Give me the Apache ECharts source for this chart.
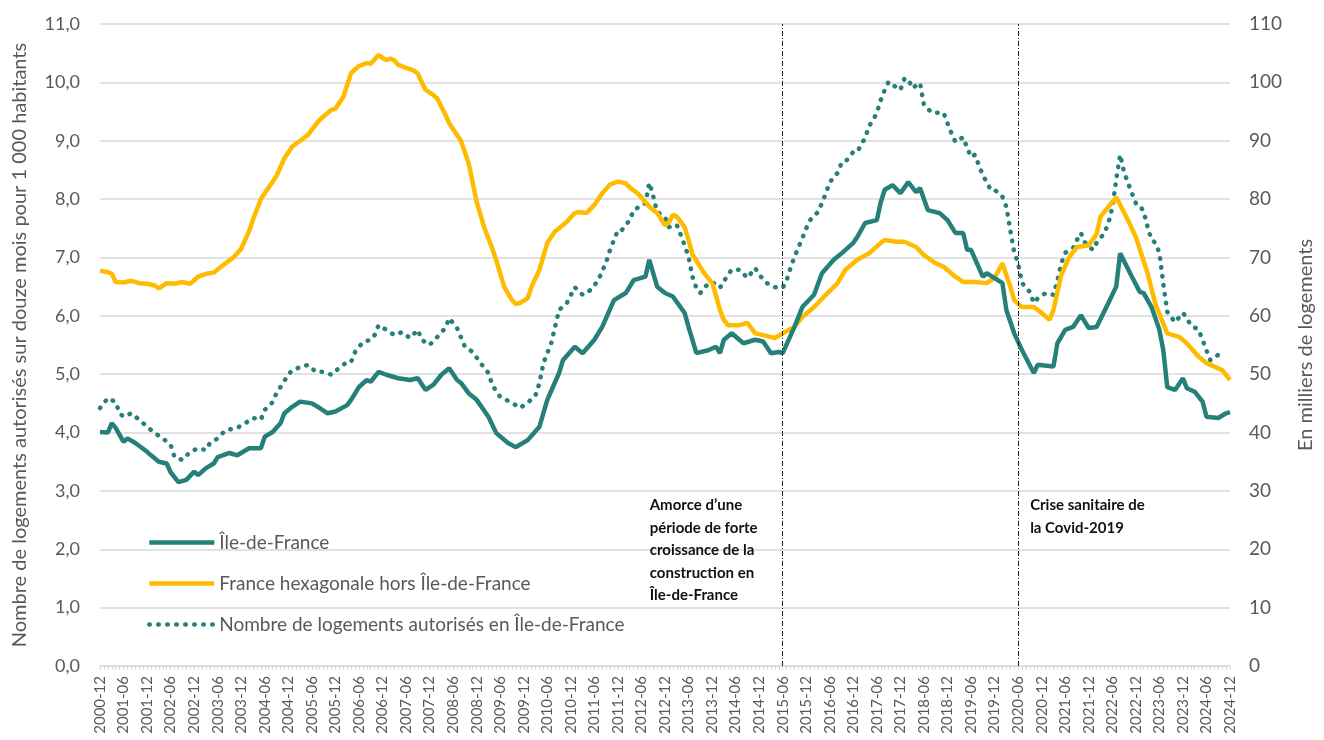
<!DOCTYPE html>
<html lang="fr">
<head>
<meta charset="utf-8">
<title>Logements autorisés</title>
<script src="https://cdn.jsdelivr.net/npm/echarts@6/dist/echarts.min.js"></script>
<style>
html, body { margin: 0; padding: 0; background: #fff; }
#chart-container { width: 1324px; height: 740px; }
</style>
</head>
<body>
<div id="chart-container"></div>
<script>
// catégories : un point par mois, de 2000-12 à 2024-12
var months = [];
for (var y = 2000, m = 12; y < 2025; ) {
    months.push(y + '-' + (m < 10 ? '0' + m : m));
    m++;
    if (m > 12) { m = 1; y++; }
}

// valeurs : [rang du mois depuis 2000-12, valeur]
// Île-de-France (logements pour 1 000 habitants)
var ileDeFrance = [
    [0,4.01],[2,4.0],[3,4.16],[4,4.08],[6,3.84],[7,3.9],[9,3.82],[12,3.67],[13,3.61],[15,3.5],
    [17,3.47],[18,3.32],[20,3.15],[22,3.19],[24,3.33],[25,3.27],[27,3.39],[29,3.47],[30,3.58],[33,3.65],
    [35,3.61],[38,3.73],[41,3.73],[42,3.93],[44,4.01],[46,4.16],[47,4.33],[49,4.44],[51,4.53],[54,4.5],
    [56,4.42],[58,4.33],[60,4.36],[63,4.47],[64,4.56],[66,4.78],[68,4.9],[69,4.87],[71,5.04],[73,4.99],
    [76,4.93],[79,4.9],[81,4.93],[83,4.73],[85,4.82],[87,4.99],[89,5.1],[91,4.9],[92,4.85],[94,4.67],
    [96,4.56],[99,4.27],[101,3.99],[104,3.82],[106,3.75],[107,3.79],[109,3.87],[112,4.1],[114,4.56],[117,5.02],
    [118,5.24],[121,5.47],[123,5.36],[126,5.59],[128,5.81],[131,6.27],[134,6.39],[136,6.61],[139,6.67],[140,6.96],
    [142,6.5],[144,6.39],[146,6.33],[149,6.05],[150,5.81],[152,5.36],[155,5.41],[157,5.47],[158,5.36],[159,5.59],
    [161,5.7],[164,5.53],[167,5.59],[169,5.56],[171,5.36],[173,5.38],[174,5.36],[177,5.81],[179,6.15],[182,6.36],
    [184,6.73],[187,6.96],[189,7.07],[192,7.25],[193,7.35],[195,7.59],[198,7.64],[199,7.95],[200,8.16],[202,8.24],
    [204,8.1],[206,8.29],[208,8.12],[209,8.19],[211,7.81],[214,7.76],[216,7.64],[218,7.42],[220,7.42],[221,7.13],
    [222,7.13],[225,6.67],[226,6.73],[230,6.56],[231,6.1],[233,5.7],[235,5.41],[238,5.02],[239,5.16],[243,5.13],
    [244,5.53],[246,5.76],[248,5.81],[250,6.01],[252,5.79],[254,5.81],[257,6.22],[259,6.5],[260,7.07],[263,6.67],
    [265,6.41],[266,6.39],[268,6.15],[270,5.76],[271,5.41],[272,4.78],[274,4.73],[276,4.93],[277,4.76],[279,4.7],
    [281,4.53],[282,4.27],[285,4.25],[287,4.33],[288,4.35]
];

// France hexagonale hors Île-de-France (logements pour 1 000 habitants)
var horsIdf = [
    [0,6.77],[2,6.75],[3,6.72],[4,6.58],[6,6.57],[8,6.6],[10,6.56],[12,6.55],[14,6.52],[15,6.47],
    [17,6.56],[19,6.55],[21,6.58],[23,6.55],[25,6.67],[27,6.72],[29,6.74],[31,6.85],[33,6.95],[34,7.0],
    [36,7.15],[38,7.45],[39,7.65],[41,8.0],[43,8.2],[45,8.4],[47,8.7],[49,8.9],[51,9.0],[53,9.1],
    [56,9.36],[59,9.53],[60,9.55],[62,9.75],[64,10.16],[66,10.28],[68,10.33],[69,10.32],[71,10.47],[72,10.42],
    [73,10.38],[74,10.41],[75,10.38],[76,10.3],[78,10.25],[80,10.2],[81,10.15],[82,10.0],[83,9.87],[85,9.78],
    [86,9.72],[88,9.45],[89,9.3],[91,9.1],[92,9.0],[94,8.6],[96,7.95],[98,7.5],[100,7.15],[101,6.95],
    [103,6.5],[105,6.27],[106,6.2],[107,6.22],[109,6.3],[110,6.5],[112,6.79],[114,7.25],[116,7.45],[117,7.5],
    [119,7.61],[121,7.76],[122,7.78],[124,7.76],[126,7.9],[128,8.1],[130,8.25],[132,8.3],[134,8.27],[135,8.2],
    [137,8.1],[139,7.95],[140,7.87],[142,7.76],[144,7.55],[145,7.6],[146,7.73],[147,7.7],[149,7.52],[150,7.3],
    [151,7.05],[154,6.73],[156,6.56],[157,6.35],[158,6.1],[159,5.93],[160,5.84],[163,5.84],[165,5.88],[167,5.7],
    [169,5.67],[172,5.62],[174,5.7],[177,5.81],[179,5.98],[182,6.15],[185,6.36],[188,6.56],[190,6.79],[193,6.96],
    [196,7.07],[199,7.25],[200,7.3],[203,7.27],[205,7.27],[208,7.18],[210,7.04],[213,6.9],[215,6.84],[218,6.67],
    [220,6.58],[223,6.58],[226,6.56],[228,6.65],[230,6.9],[231,6.7],[232,6.5],[233,6.27],[235,6.15],[238,6.15],
    [240,6.05],[242,5.93],[243,6.1],[245,6.7],[247,7.0],[249,7.18],[252,7.21],[254,7.4],[255,7.7],[258,7.95],
    [259,8.03],[262,7.64],[264,7.35],[267,6.73],[269,6.2],[272,5.7],[275,5.64],[277,5.53],[280,5.3],[282,5.19],
    [286,5.07],[288,4.9]
];

// Nombre de logements autorisés en Île-de-France (milliers, axe de droite)
var nbLogementsIdf = [
    [0,44.2],[2,45.9],[4,45.2],[5,43.3],[6,42.7],[8,43.3],[10,42.2],[12,41.0],[14,39.9],[16,39.0],
    [18,37.9],[19,35.8],[21,35.3],[23,36.7],[25,37.3],[27,37.0],[28,38.2],[30,39.0],[32,40.4],[35,40.8],
    [37,41.6],[39,42.5],[41,42.2],[42,43.9],[44,45.2],[45,46.8],[46,47.8],[48,49.9],[49,50.7],[51,51.2],
    [53,51.6],[55,50.4],[57,50.4],[59,49.9],[61,51.1],[63,52.1],[64,52.1],[65,53.8],[67,55.5],[69,55.9],
    [70,56.7],[71,58.4],[73,57.6],[75,56.7],[77,57.2],[79,56.2],[81,57.6],[82,55.9],[84,55.0],[86,56.4],
    [88,57.9],[89,59.6],[91,57.9],[93,54.7],[95,53.8],[97,51.9],[99,50.2],[100,48.1],[102,46.1],[105,45.1],
    [107,44.2],[109,45.1],[111,46.4],[112,48.5],[113,51.9],[115,55.3],[117,61.0],[119,62.2],[121,64.9],[123,63.6],
    [125,64.4],[127,66.1],[129,69.2],[130,71.3],[132,74.7],[133,74.7],[135,76.4],[136,78.1],[139,79.3],[140,82.8],
    [141,80.5],[142,77.8],[144,76.9],[145,75.2],[147,75.6],[148,73.9],[149,72.1],[150,70.1],[151,66.7],[152,64.8],
    [153,63.9],[154,64.9],[156,65.8],[158,64.8],[160,67.0],[161,67.9],[163,67.9],[165,66.5],[167,68.2],[168,67.0],
    [170,65.6],[172,64.9],[174,64.8],[175,66.1],[176,68.2],[177,70.1],[179,73.3],[180,75.0],[181,76.4],[183,77.8],
    [184,79.3],[185,81.0],[186,82.9],[188,84.5],[189,86.2],[190,86.4],[192,88.1],[193,88.1],[195,90.5],[196,92.5],
    [197,93.5],[198,94.8],[199,97.0],[200,98.7],[201,100.1],[202,99.6],[204,98.7],[205,100.6],[206,100.6],[207,99.0],
    [209,99.9],[210,96.1],[212,94.8],[215,94.8],[216,93.0],[217,91.3],[218,89.8],[220,90.6],[221,88.8],[222,87.2],
    [223,87.6],[224,85.8],[225,84.1],[226,82.9],[227,81.6],[228,81.6],[230,80.4],[231,78.7],[232,74.7],[233,70.9],
    [234,69.0],[235,65.6],[237,64.1],[238,62.2],[239,63.0],[241,63.9],[243,63.6],[244,66.0],[245,69.0],[246,70.8],
    [248,71.6],[249,73.0],[250,74.2],[251,72.6],[253,71.3],[254,72.5],[256,74.2],[257,75.9],[258,78.5],[259,83.3],
    [260,87.6],[261,84.6],[262,82.8],[263,81.0],[264,79.3],[265,79.0],[266,77.8],[267,75.2],[268,73.0],[269,72.5],
    [270,70.8],[271,65.5],[272,60.7],[274,58.9],[276,60.5],[277,59.6],[278,58.4],[280,57.6],[281,55.9],[282,54.1],
    [283,52.4],[285,53.3]
];

var seriesNames = ['Île-de-France', 'France hexagonale hors Île-de-France', 'Nombre de logements autorisés en Île-de-France'];
var eventMonths = ['2015-06', '2020-06'];
var eventTexts = [
    'Amorce d\u2019une\npériode de forte\ncroissance de la\nconstruction en\nÎle-de-France',
    'Crise sanitaire de\nla Covid-2019'
];

var TEAL = '#26807a';
var GOLD = '#ffbb00';
var GREY = '#595959';
var GRID = '#d9d9d9';
var FONT = 'Lato, "Open Sans", sans-serif';

function toCat(points) {
    return points.map(function (p) { return [months[p[0]], p[1]]; });
}

var chart = echarts.init(document.getElementById('chart-container'));

chart.setOption({
    animation: false,
    textStyle: { fontFamily: FONT },
    grid: { left: 100, right: 88, top: 24, bottom: 74 },
    legend: {
        orient: 'vertical',
        left: 142,
        top: 528,
        itemWidth: 65,
        itemHeight: 14,
        itemGap: 22,
        itemStyle: { opacity: 0 },
        lineStyle: { width: 4.5 },
        textStyle: { color: GREY, fontSize: 19, fontFamily: FONT },
        data: seriesNames
    },
    xAxis: {
        type: 'category',
        data: months,
        boundaryGap: false,
        axisLine: { lineStyle: { color: GRID, width: 1 } },
        axisTick: { interval: 0, length: 4, lineStyle: { color: GRID } },
        axisLabel: {
            interval: function (i) { return i % 6 === 0; },
            rotate: 90,
            margin: 10,
            fontSize: 15,
            color: GREY
        },
        splitLine: { show: false }
    },
    yAxis: [
        {
            type: 'value',
            min: 0, max: 11, interval: 1,
            name: 'Nombre de logements autorisés sur douze mois pour 1 000 habitants',
            nameLocation: 'middle',
            nameRotate: 90,
            nameGap: 70,
            nameTextStyle: { color: GREY, fontSize: 20 },
            axisLine: { show: false },
            axisTick: { show: false },
            axisLabel: {
                color: GREY, fontSize: 18, margin: 20,
                formatter: function (v) { return v.toFixed(1).replace('.', ','); }
            },
            splitLine: { lineStyle: { color: GRID, width: 1.5 } }
        },
        {
            type: 'value',
            min: 0, max: 110, interval: 10,
            name: 'En milliers de logements',
            nameLocation: 'middle',
            nameRotate: 90,
            nameGap: 66,
            nameTextStyle: { color: GREY, fontSize: 20 },
            axisLine: { show: false },
            axisTick: { show: false },
            axisLabel: { color: GREY, fontSize: 19, margin: 19 },
            splitLine: { show: false }
        }
    ],
    series: [
        {
            name: seriesNames[2],
            type: 'line',
            yAxisIndex: 1,
            data: toCat(nbLogementsIdf),
            symbol: 'none',
            color: TEAL,
            lineStyle: { color: TEAL, width: 4.5, type: [0.5, 8.5], cap: 'round' },
            z: 2
        },
        {
            name: seriesNames[1],
            type: 'line',
            data: toCat(horsIdf),
            symbol: 'none',
            color: GOLD,
            lineStyle: { color: GOLD, width: 4.5 },
            z: 3
        },
        {
            name: seriesNames[0],
            type: 'line',
            data: toCat(ileDeFrance),
            symbol: 'none',
            color: TEAL,
            lineStyle: { color: TEAL, width: 4.5 },
            z: 4,
            markLine: {
                silent: true,
                symbol: 'none',
                label: { show: false },
                lineStyle: { color: '#222', width: 1, type: [5, 2, 1, 2] },
                data: eventMonths.map(function (m) { return { xAxis: m }; })
            }
        }
    ]
});

// annotations placées à côté des lignes verticales
var p1 = chart.convertToPixel({ xAxisIndex: 0, yAxisIndex: 0 }, [eventMonths[0], 3]);
var p2 = chart.convertToPixel({ xAxisIndex: 0, yAxisIndex: 0 }, [eventMonths[1], 3]);
chart.setOption({
    graphic: [
        {
            type: 'text', left: p1[0] - 133, top: p1[1] + 3,
            style: { text: eventTexts[0], font: 'bold 15px Lato, sans-serif', fill: '#111', lineHeight: 22.6 }
        },
        {
            type: 'text', left: p2[0] + 12, top: p2[1] + 3,
            style: { text: eventTexts[1], font: 'bold 15px Lato, sans-serif', fill: '#111', lineHeight: 22.6 }
        }
    ]
});
</script>
</body>
</html>
